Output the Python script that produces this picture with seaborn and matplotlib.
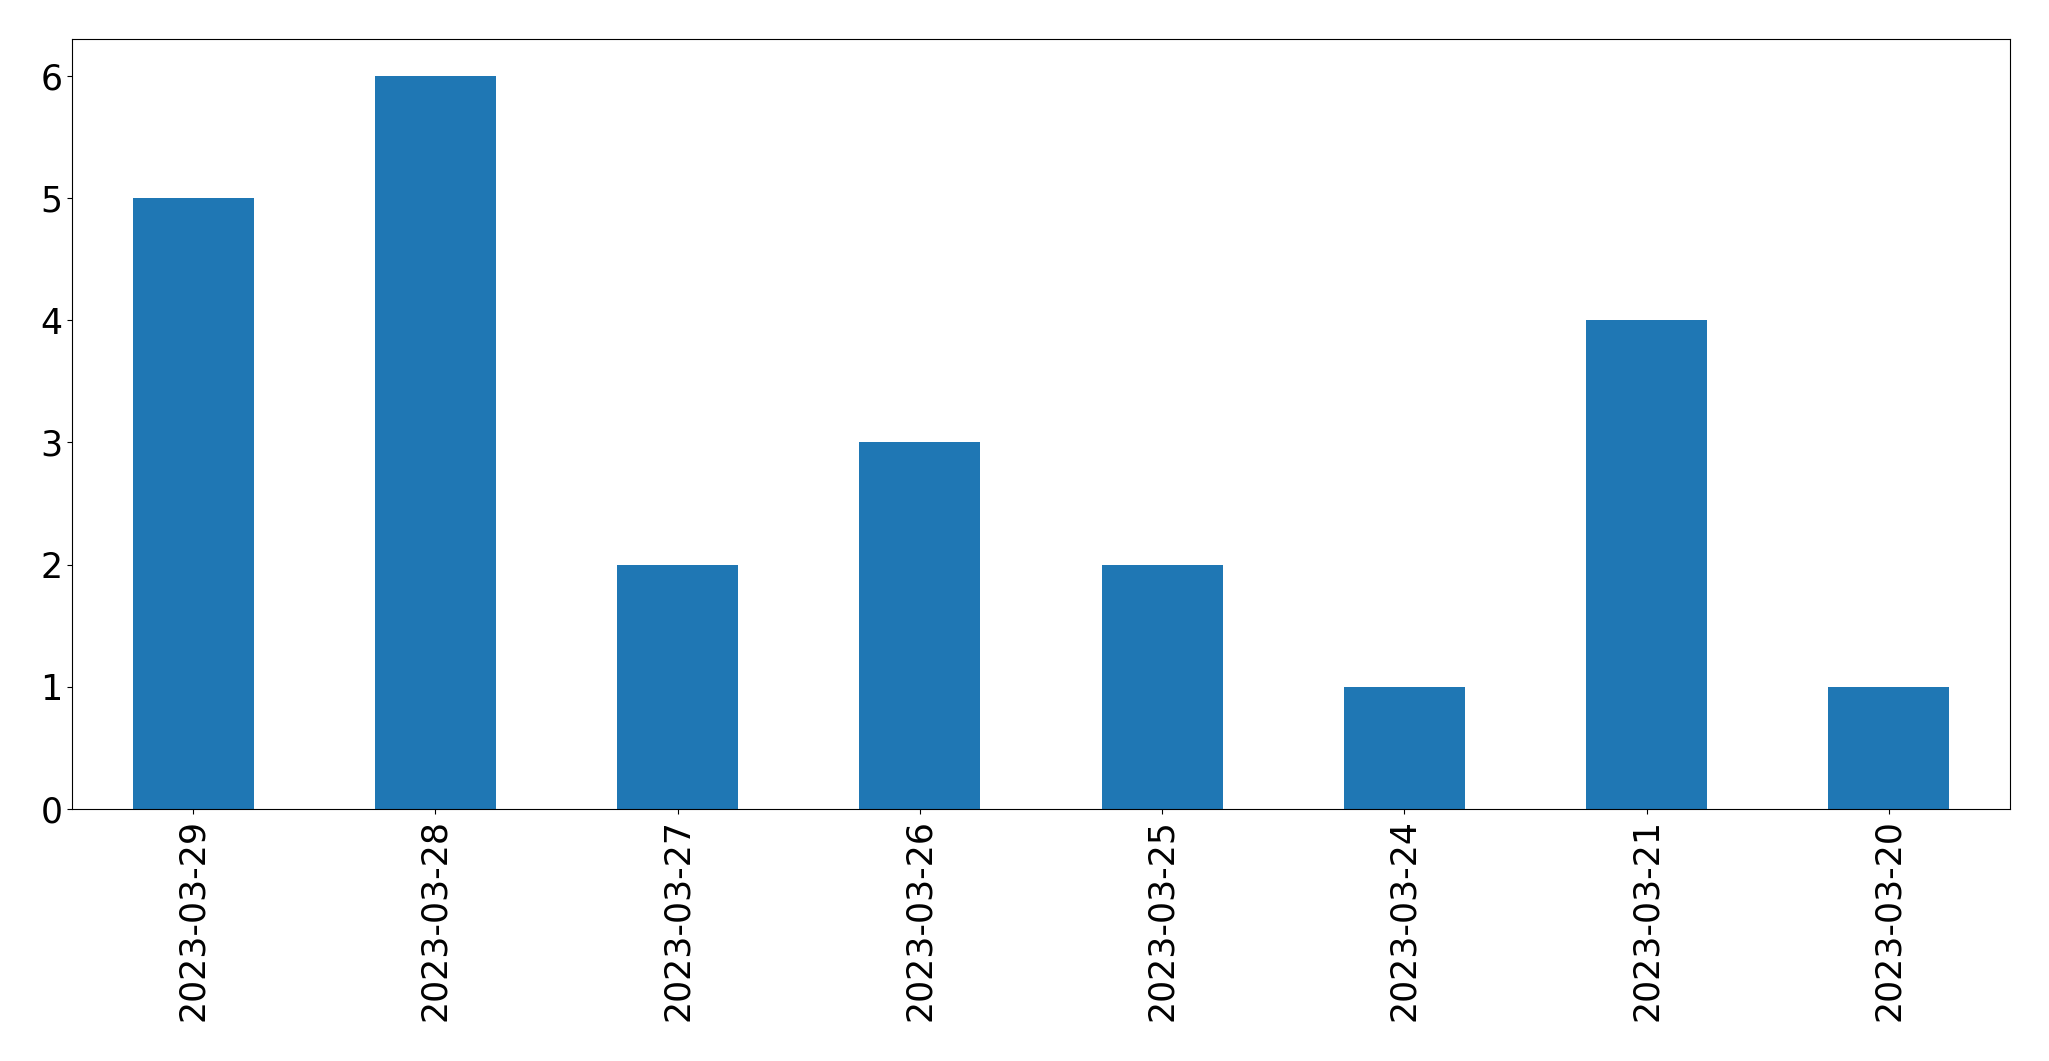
import matplotlib
matplotlib.use("Agg")
import matplotlib.pyplot as plt
import seaborn as sns
import pandas as pd

dates = ["2023-03-29", "2023-03-28", "2023-03-27", "2023-03-26",
         "2023-03-25", "2023-03-24", "2023-03-21", "2023-03-20"]
counts = [5, 6, 2, 3, 2, 1, 4, 1]

df = pd.DataFrame({"date": dates, "count": counts})

plt.rcParams['font.family'] = ['DejaVu Sans']
fig, ax = plt.subplots(figsize=(20.49, 10.61), dpi=100)
fig.subplots_adjust(left=72/2049, right=2010/2049, top=1-39/1061, bottom=1-809/1061)

sns.barplot(data=df, x="date", y="count", order=dates, color="#1f77b4",
            saturation=1, width=0.5, ax=ax)
ax.set_xlim(-0.5, len(dates) - 0.5)
ax.set_ylim(0, 6.3)
ax.set_xlabel("")
ax.set_ylabel("")
ax.tick_params(axis="both", labelsize=25)
ax.tick_params(axis="x", labelrotation=90)
for s in ax.spines.values():
    s.set_visible(True)
    s.set_color("black")

fig.savefig("out.png", dpi=100)
